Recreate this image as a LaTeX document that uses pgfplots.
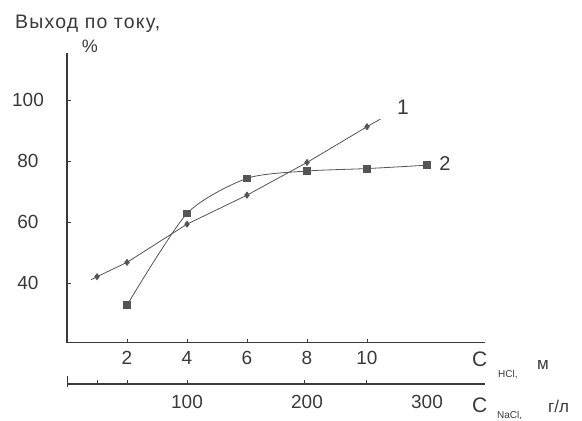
\documentclass[border=0pt]{standalone}
\usepackage{pgfplots}
\pgfplotsset{compat=1.18}
\usepackage{fontspec}
\setmainfont{Liberation Sans}
\newfontfamily\widefont[LetterSpace=6]{Liberation Sans}
\definecolor{ink}{HTML}{3A3A3A}
\definecolor{linec}{HTML}{555555}
\begin{document}
\begin{tikzpicture}
\path[use as bounding box] (0pt,0pt) rectangle (582pt,421pt);
\fill[white] (0pt,0pt) rectangle (582pt,421pt);
\begin{axis}[
  at={(67pt,78.3pt)}, anchor=south west, scale only axis,
  x=30pt, y=3.055pt,
  xmin=0, xmax=13.93, ymin=20.6, ymax=115.3,
  axis lines*=left,
  axis line style={ink, line width=1.4pt},
  tick style={ink, line width=1pt},
  tick align=inside, major tick length=4pt,
  xtick={2,4,6,8,10}, ytick={40,60,80,100},
  xticklabel style={anchor=center, yshift=-15.6pt},
  yticklabel style={anchor=center, xshift=-39pt},
  ticklabel style={font=\fontsize{19}{21}\selectfont, text=ink},
  /pgf/number format/assume math mode=true,
  clip=false]
\addplot[linec, line width=0.8pt, mark=diamond*, mark size=3pt, mark options={solid, fill=linec}]
  coordinates {(1,42.2)(2,46.9)(4,59.4)(6,68.9)(8,79.6)(10,91.3)};
\addplot[linec, line width=0.8pt] coordinates {(0.8,41.2)(1,42.2)};
\addplot[linec, line width=0.8pt] coordinates {(10,91.3)(10.45,93.8)};
\addplot[linec, line width=0.8pt, smooth, tension=0.42, mark=square*, mark size=3.4pt, mark options={solid, fill=linec}]
  coordinates {(2,32.9)(4,62.9)(6,74.4)(8,76.8)(10,77.6)(12,78.7)};
\node[font=\fontsize{21}{22}\selectfont, text=ink] at (axis cs:11.2,97.7) {1};
\node[font=\fontsize{20}{22}\selectfont, text=ink] at (axis cs:12.6,79.4) {2};
\end{axis}
\begin{axis}[
  at={(67pt,37pt)}, anchor=south west, scale only axis,
  x=30pt, y=1pt,
  xmin=0, xmax=13.93, ymin=0, ymax=1,
  axis x line*=bottom, axis y line=none,
  axis line style={ink, line width=1.2pt},
  tick style={ink, line width=1pt},
  tick align=inside, major tick length=4pt,
  xtick={1,2,4,7.93,9.97}, xticklabels={},
  extra x ticks={4,8,12}, extra x tick labels={100,200,300},
  extra x tick style={major tick length=0pt, xticklabel style={anchor=center, yshift=-17.7pt}},
  ticklabel style={font=\fontsize{19}{21}\selectfont, text=ink},
  clip=false]
\addplot[draw=none] coordinates {(0,0)};
\draw[ink, line width=1pt] (axis cs:0,0) ++(0pt,-3pt) -- ++(0pt,11pt);
\end{axis}
\node[anchor=base west, inner sep=0pt, font=\widefont\fontsize{19.5}{21}\selectfont, text=ink] at (15pt,392.7pt) {Выход по току,};
\node[inner sep=0pt, font=\fontsize{18}{20}\selectfont, text=ink] at (90pt,374.3pt) {\%};
\node[anchor=base west, inner sep=0pt, font=\fontsize{21}{22}\selectfont, text=ink] at (472pt,54pt) {C};
\node[anchor=base west, inner sep=0pt, font=\fontsize{10}{11}\selectfont, text=ink] at (498pt,43pt) {HCl,};
\node[anchor=base west, inner sep=0pt, font=\fontsize{17}{18}\selectfont, text=ink] at (537pt,51pt) {м};
\node[anchor=base west, inner sep=0pt, font=\fontsize{21}{22}\selectfont, text=ink] at (472pt,9pt) {C};
\node[anchor=base west, inner sep=0pt, font=\fontsize{10}{11}\selectfont, text=ink] at (497pt,2pt) {NaCl,};
\node[anchor=base west, inner sep=0pt, font=\fontsize{17}{18}\selectfont, text=ink] at (548pt,9pt) {г/л};
\end{tikzpicture}
\end{document}
